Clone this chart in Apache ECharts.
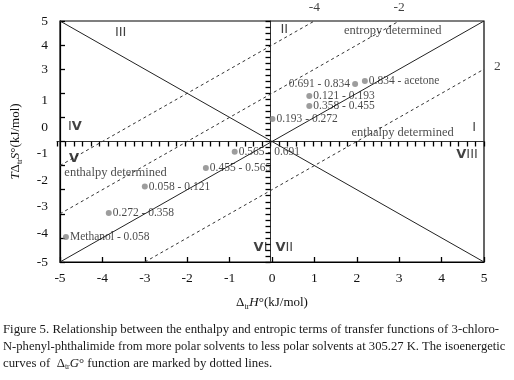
<!DOCTYPE html>
<html>
<head>
<meta charset="utf-8">
<script src="https://cdn.jsdelivr.net/npm/echarts@6/dist/echarts.min.js"></script>
<style>
  html, body { margin: 0; padding: 0; background: #fff; }
  #main { width: 514px; height: 380px; }
</style>
</head>
<body>
<div id="main"></div>
<script>
// transfer pairs: enthalpy term (x) and entropic term (y), kJ/mol
const pairNames = ['Methanol - 0.058', '0.272 - 0.358', '0.058 - 0.121', '0.455 - 0.565',
  '0.565 - 0.691', '0.193 - 0.272', '0.358 - 0.455', '0.121 - 0.193', '0.691 - 0.834', '0.834 - acetone'];
const pairH = [-4.86, -3.85, -3.0, -1.56, -0.88, 0.01, 0.88, 0.88, 1.96, 2.19];
const pairTS = [-3.96, -2.97, -1.87, -1.1, -0.43, 0.93, 1.47, 1.89, 2.39, 2.51];

// reference lines  TdS = dH and TdS = -dH
const diagLine = [[-5, -5], [5, 5]];
const antiDiagLine = [[-5, 5], [5, -5]];

// isoenergetic lines (dotted), dG = -4, -2, 2
const isoLabels = ['-4', '-2', '2'];
const isoLines = [
  [[-5, -1], [1, 5]],
  [[-5, -3], [3, 5]],
  [[-3, -5], [5, 3]]
];

// y tick labels as printed in the figure (they sit a bit off the grid)
const yTickText = ['5', '4', '3', '1', '0', '-1', '-2', '-3', '-4', '-5'];
const yTickAt = [5, 4, 3, 1.7, 0.6, -0.5, -1.6, -2.7, -3.8, -5];
const yTicks = [-5, -4, -3, -2, -1, 0, 1, 2, 3, 4, 5];

// region marks
const regionNames = ['III', 'II', 'I', 'IV', 'V', 'VI', 'VII', 'VIII'];
const regionText = ['entropy determined', 'enthalpy determined', 'enthalpy determined'];

const serif = '"Liberation Serif", "DejaVu Serif", serif';
const sans = '"DejaVu Sans", "Liberation Sans", sans-serif';

const regionAt = [[-3.57, 4.5], [0.29, 4.63], [4.77, 0.56], [-4.65, 0.6],
  [-4.67, -0.73], [-0.27, -4.42], [0.29, -4.42], [4.6, -0.56]];
const regionTextAt = [[2.85, 4.59], [3.08, 0.35], [-3.69, -1.31]];

function roman(s) {
  return s.replace(/I+/g, m => '{i|' + m + '}').replace(/V/g, '{v|V}');
}

const chart = echarts.init(document.getElementById('main'));

const isoSeries = isoLines.map(pts => ({
  type: 'line',
  data: pts,
  symbol: 'none',
  silent: true,
  lineStyle: { color: '#333', width: 1, type: [3, 3] },
  z: 2
}));

// main plot box, plus two helper grids whose edges fall on the zero lines
const L = 57, R = 30, T = 21, B = 118;
const plotW = 514 - L - R, plotH = 380 - T - B;

const nameRich = {
  sub: { fontFamily: serif, fontSize: 8, lineHeight: 8, verticalAlign: 'bottom', color: '#111' },
  it: { fontFamily: serif, fontSize: 13, fontStyle: 'italic', color: '#111' }
};

const tickStyle = { color: '#000', width: 1.3 };

const option = {
  animation: false,
  grid: [
    { left: L, right: R, top: T, bottom: B, show: true, borderColor: '#000', borderWidth: 1.2 },
    { left: L, right: R, top: T, height: plotH / 2 },
    { left: L + plotW / 2, right: R, top: T, bottom: B }
  ],
  xAxis: [
    {
      type: 'value', min: -5, max: 5, interval: 1, position: 'bottom',
      axisLine: { onZero: false, lineStyle: { color: '#000', width: 1.2 } },
      axisTick: { show: true, inside: true, length: 5, lineStyle: tickStyle },
      axisLabel: { color: '#111', fontFamily: serif, fontSize: 13.5, margin: 9 },
      splitLine: { show: false },
      name: 'Δ{sub|tr}{it|H}°(kJ/mol)',
      nameLocation: 'middle',
      nameGap: 33,
      nameTextStyle: { color: '#111', fontFamily: serif, fontSize: 13, lineHeight: 16, rich: nameRich }
    },
    {
      // horizontal zero line with its fine ticks
      gridIndex: 1, type: 'value', min: -5, max: 5, interval: 1, position: 'bottom',
      axisLine: { onZero: false, lineStyle: { color: '#333' } },
      axisTick: { show: true, length: 5, lineStyle: tickStyle },
      minorTick: { show: true, splitNumber: 5, length: 5, lineStyle: tickStyle },
      axisLabel: { show: false },
      splitLine: { show: false }
    },
    { gridIndex: 2, type: 'value', min: 0, max: 5, show: false }
  ],
  yAxis: [
    {
      type: 'value', min: -5, max: 5, interval: 1, position: 'left',
      axisLine: { onZero: false, lineStyle: { color: '#000', width: 1.2 } },
      axisTick: { show: true, inside: true, length: 5, customValues: yTicks, lineStyle: tickStyle },
      axisLabel: {
        customValues: yTickAt,
        formatter: function (v) {
          let best = 0;
          yTickAt.forEach((p, i) => { if (Math.abs(p - v) < Math.abs(yTickAt[best] - v)) best = i; });
          return yTickText[best];
        },
        color: '#111', fontFamily: serif, fontSize: 13.5, margin: 12
      },
      splitLine: { show: false },
      name: '{it|T}Δ{sub|tr}{it|S}°(kJ/mol)',
      nameLocation: 'middle',
      nameRotate: 90,
      nameGap: 36,
      nameTextStyle: { color: '#111', fontFamily: serif, fontSize: 13, lineHeight: 16, rich: nameRich }
    },
    { gridIndex: 1, type: 'value', min: 0, max: 5, show: false },
    {
      // vertical zero line with its fine ticks
      gridIndex: 2, type: 'value', min: -5, max: 5, interval: 1, position: 'left',
      axisLine: { onZero: false, lineStyle: { color: '#333' } },
      axisTick: { show: true, length: 5, lineStyle: tickStyle },
      minorTick: { show: true, splitNumber: 4, length: 5, lineStyle: tickStyle },
      axisLabel: { show: false },
      splitLine: { show: false }
    }
  ],
  series: [
    {
      type: 'line', data: diagLine, symbol: 'none', silent: true,
      lineStyle: { color: '#222', width: 1 }, z: 2
    },
    {
      type: 'line', data: antiDiagLine, symbol: 'none', silent: true,
      lineStyle: { color: '#222', width: 1 }, z: 2
    },
    ...isoSeries,
    {
      // dG values printed at the ends of the dotted lines
      type: 'scatter', symbolSize: 0, clip: false, silent: true,
      data: isoLines.map(pts => ({
        value: pts[1],
        label: pts[1][1] >= 5
          ? { position: 'top', distance: 7 }
          : { position: 'right', distance: 10, offset: [0, -3] }
      })),
      label: {
        show: true, color: '#111', fontFamily: serif, fontSize: 13.5,
        formatter: p => isoLabels[p.dataIndex]
      },
      z: 3
    },
    {
      type: 'scatter',
      symbolSize: 6,
      itemStyle: { color: '#858585' },
      data: pairH.map((h, i) => ({
        value: [h, pairTS[i]],
        label: i === 8 ? { position: 'left', distance: 2 } : { position: 'right', distance: 1 }
      })),
      label: {
        show: true, color: '#1a1a1a', fontFamily: serif, fontSize: 11.5,
        formatter: p => pairNames[p.dataIndex]
      },
      z: 5
    },
    {
      type: 'scatter', symbolSize: 0, clip: false, silent: true,
      data: regionAt.map(p => p),
      label: {
        show: true, position: 'inside',
        formatter: p => roman(regionNames[p.dataIndex]),
        rich: {
          i: { fontFamily: sans, fontSize: 13, color: '#111' },
          v: { fontFamily: sans, fontSize: 13, fontWeight: 'bold', color: '#111' }
        }
      },
      z: 4
    },
    {
      type: 'scatter', symbolSize: 0, clip: false, silent: true,
      data: regionTextAt.map(p => p),
      label: {
        show: true, position: 'inside', color: '#1a1a1a', fontFamily: serif, fontSize: 12.5,
        formatter: p => regionText[p.dataIndex]
      },
      z: 4
    }
  ],
  graphic: [
    {
      type: 'text', left: 3, top: 323,
      style: {
        text: 'Figure 5. Relationship between the enthalpy and entropic terms of transfer functions of 3-chloro-',
        font: '12.8px ' + serif, fill: '#1a1a1a'
      }
    },
    {
      type: 'text', left: 3, top: 340,
      style: {
        text: 'N-phenyl-phthalimide from more polar solvents to less polar solvents at 305.27 K. The isoenergetic',
        font: '12.6px ' + serif, fill: '#1a1a1a'
      }
    },
    {
      type: 'text', left: 3, top: 356,
      style: {
        text: 'curves of  Δ{sub|tr}{it|G}° function are marked by dotted lines.',
        font: '12.8px ' + serif, fill: '#1a1a1a', lineHeight: 15,
        rich: {
          sub: { font: '8px ' + serif, fill: '#1a1a1a', lineHeight: 8, verticalAlign: 'bottom' },
          it: { font: 'italic 12.8px ' + serif, fill: '#1a1a1a' }
        }
      }
    }
  ]
};

chart.setOption(option);
</script>
</body>
</html>
